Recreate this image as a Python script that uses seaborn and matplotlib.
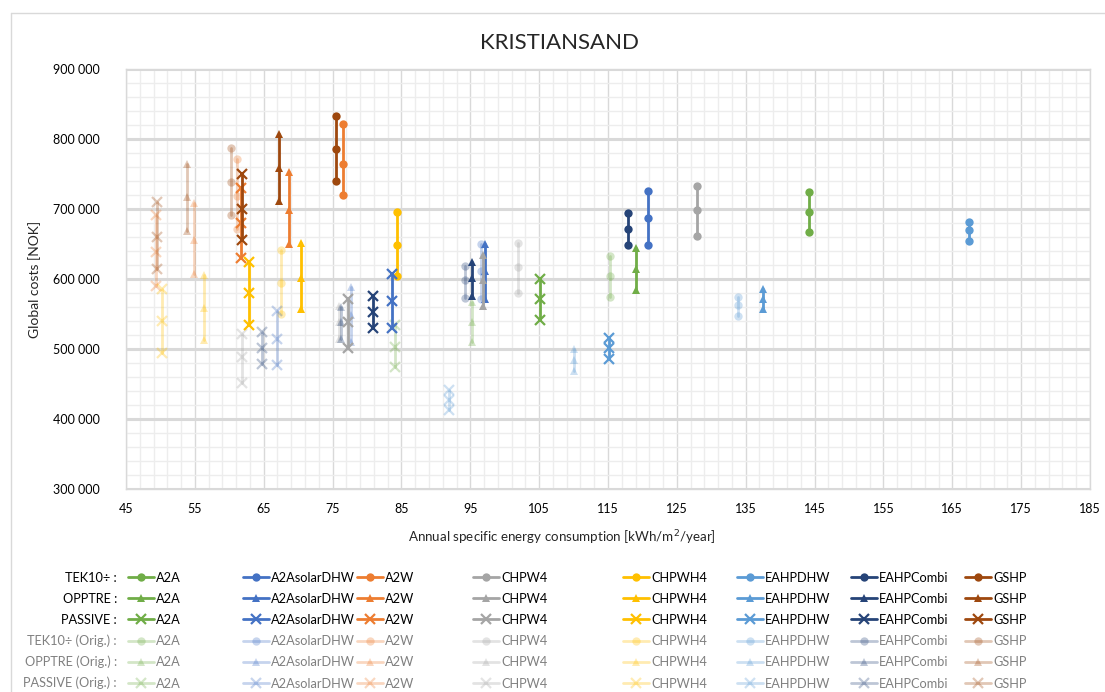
import numpy as np
import pandas as pd
import matplotlib
matplotlib.use("Agg")
import matplotlib.pyplot as plt
from matplotlib.lines import Line2D
from matplotlib.ticker import FixedLocator, MultipleLocator, FuncFormatter
import seaborn as sns

# --- data ---
techs = ["A2A", "A2AsolarDHW", "A2W", "CHPW4", "CHPWH4", "EAHPDHW", "EAHPCombi", "GSHP"]
tech_colors = ["#70AD47", "#4472C4", "#ED7D31", "#A5A5A5", "#FFC000", "#5B9BD5", "#264478", "#9E480E"]

cases = ["TEK10÷", "OPPTRE", "PASSIVE", "TEK10÷ (Orig.)", "OPPTRE (Orig.)", "PASSIVE (Orig.)"]
case_markers = ["o", "^", "x", "o", "^", "x"]
case_alpha = [1.0, 1.0, 1.0, 0.3, 0.3, 0.3]

# energy use [kWh/m2/year], one value per technology
tek10_x = [144.2, 120.8, 76.5, 127.9, 84.4, 167.4, 117.9, 75.5]
opptre_x = [119.1, 97.2, 68.7, 96.8, 70.4, 137.5, 95.3, 67.2]
passive_x = [105.1, 83.7, 61.7, 77.3, 62.8, 115.1, 80.9, 61.9]
tek10_orig_x = [115.3, 96.5, 61.1, 101.9, 67.5, 133.9, 94.2, 60.3]
opptre_orig_x = [95.2, 77.7, 54.9, 76.0, 56.3, 110.0, 76.2, 53.8]
passive_orig_x = [84.0, 66.9, 49.3, 61.8, 50.2, 91.9, 64.7, 49.5]

# global costs [NOK], three values per technology
tek10_y = [[725e3, 696e3, 667e3], [726e3, 687e3, 649e3], [821e3, 765e3, 720e3], [733e3, 699e3, 661e3],
           [696e3, 649e3, 604e3], [682e3, 670e3, 654e3], [695e3, 672e3, 648e3], [833e3, 786e3, 740e3]]
opptre_y = [[644e3, 614e3, 584e3], [650e3, 611e3, 571e3], [753e3, 698e3, 650e3], [635e3, 599e3, 561e3],
            [651e3, 602e3, 557e3], [586e3, 572e3, 557e3], [624e3, 601e3, 576e3], [807e3, 758e3, 711e3]]
passive_y = [[600e3, 571e3, 541e3], [607e3, 568e3, 530e3], [730e3, 680e3, 630e3], [571e3, 538e3, 501e3],
             [625e3, 580e3, 535e3], [516e3, 501e3, 486e3], [576e3, 553e3, 530e3], [750e3, 700e3, 656e3]]
tek10_orig_y = [[633e3, 604e3, 575e3], [650e3, 611e3, 572e3], [772e3, 718e3, 672e3], [652e3, 617e3, 580e3],
                [642e3, 595e3, 550e3], [575e3, 563e3, 547e3], [619e3, 598e3, 573e3], [787e3, 738e3, 691e3]]
opptre_orig_y = [[567e3, 538e3, 510e3], [588e3, 548e3, 510e3], [708e3, 656e3, 607e3], [561e3, 539e3, 514e3],
                 [606e3, 558e3, 513e3], [500e3, 484e3, 468e3], [560e3, 539e3, 514e3], [765e3, 717e3, 669e3]]
passive_orig_y = [[534e3, 503e3, 475e3], [554e3, 514e3, 477e3], [691e3, 638e3, 590e3], [522e3, 488e3, 451e3],
                  [586e3, 540e3, 495e3], [441e3, 427e3, 413e3], [525e3, 501e3, 479e3], [710e3, 660e3, 615e3]]

all_x = [tek10_x, opptre_x, passive_x, tek10_orig_x, opptre_orig_x, passive_orig_x]
all_y = [tek10_y, opptre_y, passive_y, tek10_orig_y, opptre_orig_y, passive_orig_y]

rows = []
for ci, case in enumerate(cases):
    for ti, tech in enumerate(techs):
        for v in all_y[ci][ti]:
            rows.append({"case": case, "tech": tech, "energy": all_x[ci][ti], "cost": v})
df = pd.DataFrame(rows)

# --- style ---
sns.set_style("white")
plt.rcParams["font.family"] = ["Lato", "DejaVu Sans"]

W, H = 1105, 692
fig = plt.figure(figsize=(W / 100, H / 100), dpi=100)


def fx(px):
    return px / W


def fy(py):
    return 1 - py / H


ax = fig.add_axes([fx(126), fy(489), fx(1090) - fx(126), fy(69) - fy(489)])

# faded series first, then the solid ones on top
order = [3, 4, 5, 0, 1, 2]
for ci in order:
    case = cases[ci]
    for ti, tech in enumerate(techs):
        sub = df[(df["case"] == case) & (df["tech"] == tech)]
        m = case_markers[ci]
        sns.lineplot(data=sub, x="energy", y="cost", ax=ax, estimator=None, sort=False,
                     color=tech_colors[ti], alpha=case_alpha[ci], linewidth=2,
                     marker=m, markersize=6 if m != "x" else 7,
                     markeredgecolor=tech_colors[ti],
                     markeredgewidth=0 if m != "x" else 1.6,
                     legend=False)

ax.set_xlim(45, 185)
ax.set_ylim(300000, 900000)
ax.xaxis.set_major_locator(FixedLocator(np.arange(45, 186, 10)))
ax.xaxis.set_minor_locator(FixedLocator(np.arange(45, 186, 2)))
ax.yaxis.set_major_locator(MultipleLocator(100000))
ax.yaxis.set_minor_locator(MultipleLocator(20000))
ax.xaxis.set_major_formatter(FuncFormatter(lambda v, p: f"{int(round(v))}"))
ax.yaxis.set_major_formatter(FuncFormatter(lambda v, p: f"{int(v):,}".replace(",", " ")))

ax.grid(which="major", axis="y", color="#D9D9D9", linewidth=2.2)
ax.grid(which="minor", axis="y", color="#EDEDED", linewidth=1)
ax.grid(which="major", axis="x", color="#D9D9D9", linewidth=1)
ax.grid(which="minor", axis="x", color="#EDEDED", linewidth=1)
ax.set_axisbelow(True)
for s in ax.spines.values():
    s.set_color("#D9D9D9")
    s.set_linewidth(1)
ax.tick_params(which="both", length=0)
ax.tick_params(axis="y", pad=19, labelsize=9, labelcolor="black")
ax.tick_params(axis="x", pad=10, labelsize=9, labelcolor="black")
ax.set_xlabel("")
ax.set_ylabel("")

# chart frame
fig.add_artist(Line2D([fx(11), 1], [fy(13), fy(13)], color="#D9D9D9", linewidth=1))
fig.add_artist(Line2D([fx(11), fx(11)], [fy(13), 0], color="#D9D9D9", linewidth=1))

fig.text(fx(559), fy(43), "KRISTIANSAND", ha="center", va="center", fontsize=16)
fig.text(fx(562), fy(538), "Annual specific energy consumption [kWh/m$^2$/year]",
         ha="center", va="center", fontsize=9.6)
fig.text(fx(35), fy(279), "Global costs [NOK]", ha="center", va="center",
         rotation=90, fontsize=10)

# legend: row labels + one legend block per technology
leg_fs = 9.2
row_y = [578, 599, 620, 641, 661.5, 682.5]
for ci, case in enumerate(cases):
    fig.text(fx(117), fy(row_y[ci]), case + " :", ha="right", va="center", fontsize=leg_fs,
             color="black" if ci < 3 else "#808080")

col_x = [128, 243, 357, 473, 623, 737, 851, 965]
for ti, tech in enumerate(techs):
    handles = []
    for ci in range(len(cases)):
        m = case_markers[ci]
        handles.append(Line2D([], [], color=tech_colors[ti], alpha=case_alpha[ci], linewidth=2,
                              marker=m, markersize=6 if m != "x" else 7,
                              markeredgecolor=tech_colors[ti],
                              markeredgewidth=0 if m != "x" else 1.6))
    leg = fig.legend(handles, [tech] * len(cases), loc="upper left",
                     bbox_to_anchor=(fx(col_x[ti]), fy(row_y[0] - 6.5)),
                     frameon=False, fontsize=leg_fs, handlelength=2.0, handletextpad=0.2,
                     borderpad=0, borderaxespad=0, labelspacing=0.72)
    for ci, t in enumerate(leg.get_texts()):
        t.set_color("black" if ci < 3 else "#808080")

fig.savefig("out.png", dpi=100)
